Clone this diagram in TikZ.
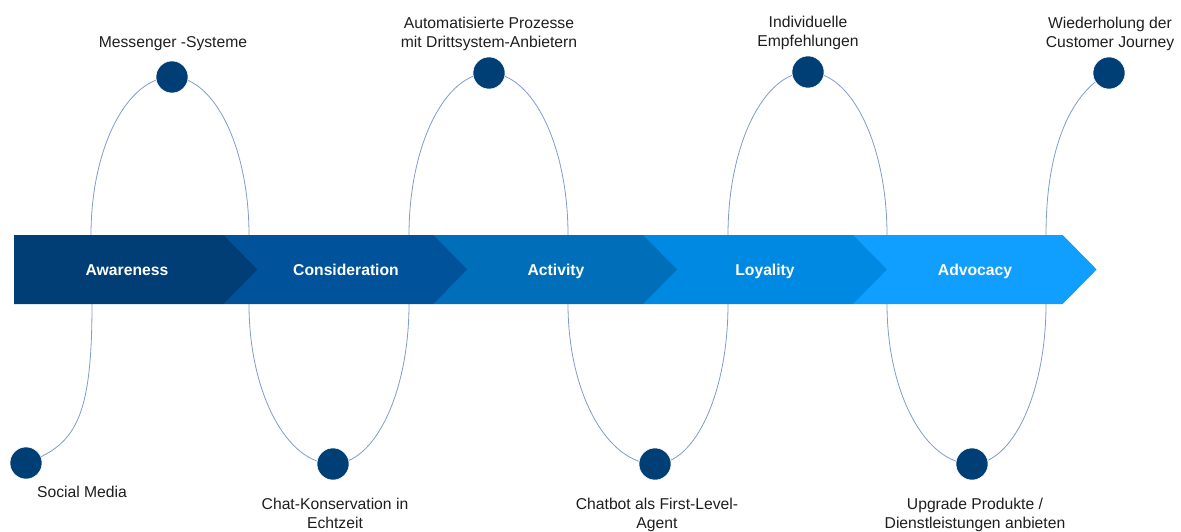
\documentclass[tikz,border=0pt]{standalone}
\usepackage{fontspec}
\setmainfont{Liberation Sans}
\definecolor{cAware}{RGB}{0,62,117}
\definecolor{cConsi}{RGB}{0,82,155}
\definecolor{cActi}{RGB}{0,110,184}
\definecolor{cLoya}{RGB}{0,137,227}
\definecolor{cAdvo}{RGB}{16,158,255}
\definecolor{dotblue}{RGB}{0,63,117}
\definecolor{lineblue}{RGB}{128,155,205}
\definecolor{textgray}{RGB}{30,30,30}
\pgfdeclarelayer{lines}
\pgfdeclarelayer{band}
\pgfsetlayers{lines,band,main}
\begin{document}
\begin{tikzpicture}[x=1pt,y=-1pt,
  loopline/.style={draw=lineblue, line width=0.8pt},
  dot/.style={circle, fill=dotblue, draw=white, line width=0.5pt, minimum size=32pt, inner sep=0pt},
  lbl/.style={font=\fontsize{15.7}{19}\selectfont, text=textgray, align=center, inner sep=0pt, anchor=base},
  stage/.style={font=\fontsize{15.7}{19}\selectfont\bfseries, text=white, inner sep=0pt, anchor=base}]
\useasboundingbox (0,0) rectangle (1181,532);

% circles
\node[dot] (c1) at (26,463) {};
\node[dot] (c2) at (172,77) {};
\node[dot] (c3) at (333,464) {};
\node[dot] (c4) at (489,73) {};
\node[dot] (c5) at (655,464) {};
\node[dot] (c6) at (808,72) {};
\node[dot] (c7) at (972,464) {};
\node[dot] (c8) at (1109,73) {};

% labels (base anchor = baseline of last line)
\node[lbl] (t1) at (82,497) {Social Media};
\node[lbl] (t2) at (173,48) {Messenger -Systeme};
\node[lbl] (t3) at (335,528.5) {Chat-Konservation in\\Echtzeit};
\node[lbl] (t4) at (489,47.5) {Automatisierte Prozesse\\mit Drittsystem-Anbietern};
\node[lbl] (t5) at (657,528) {Chatbot als First-Level-\\Agent};
\node[lbl] (t6) at (808,46.5) {Individuelle\\Empfehlungen};
\node[lbl] (t7) at (975,528) {Upgrade Produkte /\\Dienstleistungen anbieten};
\node[lbl] (t8) at (1110,47.5) {Wiederholung der\\Customer Journey};

% connecting loops
\begin{pgfonlayer}{lines}
\draw[loopline] (c1.center) .. controls (75,445) and (92,420) .. (92,304) -- (91,235)
  arc[start angle=180,end angle=270,x radius=81,y radius=158] -- (c2.center);
\draw[loopline] (c2.center) arc[start angle=270,end angle=360,x radius=77,y radius=158]
  -- (249,304) arc[start angle=180,end angle=90,x radius=84,y radius=160] -- (c3.center);
\draw[loopline] (c3.center) arc[start angle=90,end angle=0,x radius=76,y radius=160]
  -- (409,235) arc[start angle=180,end angle=270,x radius=80,y radius=162] -- (c4.center);
\draw[loopline] (c4.center) arc[start angle=270,end angle=360,x radius=79,y radius=162]
  -- (568,304) arc[start angle=180,end angle=90,x radius=87,y radius=160] -- (c5.center);
\draw[loopline] (c5.center) arc[start angle=90,end angle=0,x radius=73,y radius=160]
  -- (728,235) arc[start angle=180,end angle=270,x radius=80,y radius=163] -- (c6.center);
\draw[loopline] (c6.center) arc[start angle=270,end angle=360,x radius=79,y radius=163]
  -- (887,304) arc[start angle=180,end angle=90,x radius=85,y radius=160] -- (c7.center);
\draw[loopline] (c7.center) arc[start angle=90,end angle=0,x radius=74,y radius=160]
  -- (1046,235) .. controls (1046,140) and (1075,90) .. (c8.center);
\end{pgfonlayer}

% chevron band
\begin{pgfonlayer}{band}
\fill[cAdvo] (852.9,235) -- (1062.7,235) -- (1096.7,269.5) -- (1062.7,304) -- (852.9,304) -- cycle;
\fill[cLoya] (643,235) -- (852.9,235) -- (886.9,269.5) -- (852.9,304) -- (643,304) -- cycle;
\fill[cActi] (433.2,235) -- (643,235) -- (677,269.5) -- (643,304) -- (433.2,304) -- cycle;
\fill[cConsi] (223.3,235) -- (433.2,235) -- (467.2,269.5) -- (433.2,304) -- (223.3,304) -- cycle;
\fill[cAware] (14,235) -- (223.3,235) -- (257.3,269.5) -- (223.3,304) -- (14,304) -- cycle;
\end{pgfonlayer}

\node[stage] (s1) at (127,275) {Awareness};
\node[stage] (s2) at (346,275) {Consideration};
\node[stage] (s3) at (556,275) {Activity};
\node[stage] (s4) at (765,275) {Loyality};
\node[stage] (s5) at (975,275) {Advocacy};
\end{tikzpicture}
\end{document}
